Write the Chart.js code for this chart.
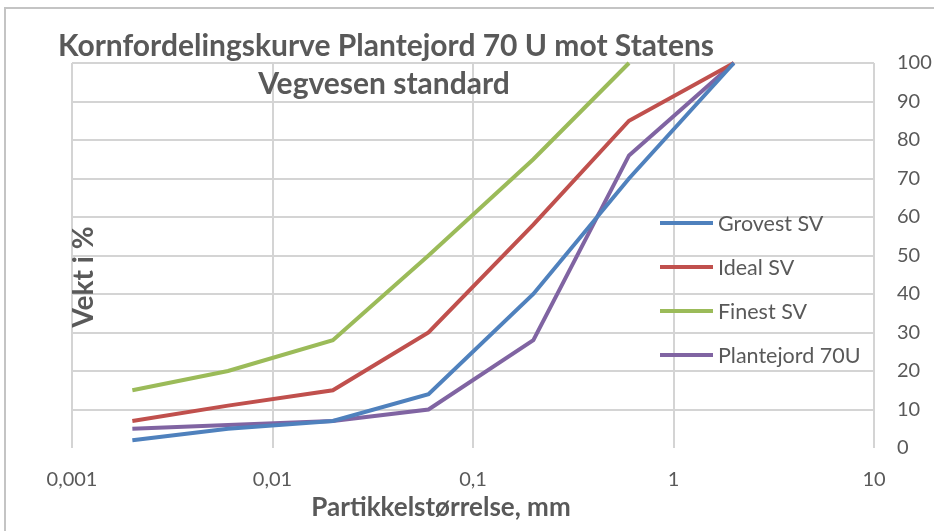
<!DOCTYPE html>
<html>
<head>
<meta charset="utf-8">
<script src="https://cdn.jsdelivr.net/npm/chart.js@4/dist/chart.umd.min.js"></script>
<style>
  html, body { margin: 0; padding: 0; background: #ffffff; }
  #wrap { width: 934px; height: 531px; position: relative; }
</style>
</head>
<body>
<div id="wrap"><canvas id="c" width="934" height="531"></canvas></div>
<script>
// ---- Data ----
const sizesMm = [0.002, 0.006, 0.02, 0.06, 0.2, 0.6, 2];
const grovestSV = [2, 5, 7, 14, 40, 70, 100];
const idealSV = [7, 11, 15, 30, 58, 85, 100];
const finestSV = [15, 20, 28, 50, 75, 100, null];
const plantejord70U = [5, 6, 7, 10, 28, 76, 100];
const seriesNames = ['Grovest SV', 'Ideal SV', 'Finest SV', 'Plantejord 70U'];
const xTickValues = [0.001, 0.01, 0.1, 1, 10];
const xTickLabels = ['0,001', '0,01', '0,1', '1', '10'];
const titleLines = ['Kornfordelingskurve Plantejord 70 U mot Statens', 'Vegvesen standard'];
const xAxisTitle = 'Partikkelstørrelse, mm';
const yAxisTitle = 'Vekt i %';

const colors = ['#4F81BD', '#C0504D', '#9BBB59', '#8064A2'];
const seriesValues = [grovestSV, idealSV, finestSV, plantejord70U];
const FONT = 'Lato, "Open Sans", sans-serif';
const TXT = '#595959';

function toPoints(vals) {
  return sizesMm.map((x, i) => ({ x: x, y: vals[i] }));
}

const decor = {
  id: 'decor',
  beforeDraw(chart) {
    const ctx = chart.ctx;
    ctx.save();
    ctx.fillStyle = '#ffffff';
    ctx.fillRect(0, 0, chart.width, chart.height);
    ctx.strokeStyle = '#c4c4c4';
    ctx.lineWidth = 2;
    ctx.strokeRect(5, 8, chart.width + 20, chart.height + 20);
    ctx.fillStyle = '#00b050';
    ctx.font = 'bold 20px ' + FONT;
    ctx.textAlign = 'left';
    ctx.textBaseline = 'alphabetic';
    ctx.fillText('g', 145, -4);
    ctx.restore();
  },
  afterDraw(chart) {
    const ctx = chart.ctx;
    ctx.save();
    ctx.fillStyle = TXT;
    ctx.font = 'bold 30px ' + FONT;
    ctx.textAlign = 'center';
    ctx.textBaseline = 'middle';
    ctx.fillText(titleLines[0], 386, 46);
    ctx.fillText(titleLines[1], 384, 84);
    ctx.font = 'bold 26px ' + FONT;
    ctx.fillText(xAxisTitle, 441, 508);
    ctx.save();
    ctx.translate(84, 277);
    ctx.rotate(-Math.PI / 2);
    ctx.font = 'bold 28px ' + FONT;
    ctx.fillText(yAxisTitle, 0, 0);
    ctx.restore();
    ctx.font = '21.5px ' + FONT;
    ctx.textAlign = 'left';
    chart.data.datasets.forEach((ds, i) => {
      const y = 223 + i * 44;
      ctx.strokeStyle = ds.borderColor;
      ctx.lineWidth = 4;
      ctx.beginPath();
      ctx.moveTo(660, y);
      ctx.lineTo(713, y);
      ctx.stroke();
      ctx.fillStyle = TXT;
      ctx.fillText(ds.label, 718, y + 1);
    });
    ctx.restore();
  }
};

new Chart(document.getElementById('c'), {
  type: 'line',
  data: {
    datasets: seriesValues.map((vals, i) => ({
      label: seriesNames[i],
      data: toPoints(vals),
      borderColor: colors[i],
      backgroundColor: colors[i],
      borderWidth: 4,
      pointRadius: 0,
      tension: 0,
      spanGaps: false,
      clip: 4
    }))
  },
  options: {
    responsive: false,
    animation: false,
    devicePixelRatio: 1,
    layout: { padding: { left: 72, top: 63, right: 0, bottom: 0 } },
    plugins: {
      legend: { display: false },
      title: { display: false },
      tooltip: { enabled: false }
    },
    scales: {
      x: {
        type: 'logarithmic',
        position: 'bottom',
        min: 0.001,
        max: 10,
        afterBuildTicks(scale) {
          scale.ticks = xTickValues.map(v => ({ value: v }));
        },
        afterFit(scale) { scale.height = 83; },
        border: { display: false },
        grid: { color: '#d4d4d4', lineWidth: 2, tickLength: 0, drawTicks: false },
        ticks: {
          autoSkip: false,
          maxRotation: 0,
          padding: 20,
          color: TXT,
          font: { family: FONT, size: 20 },
          callback(value) {
            const i = xTickValues.findIndex(v => Math.abs(v - value) / v < 1e-6);
            return i >= 0 ? xTickLabels[i] : '';
          }
        }
      },
      y: {
        position: 'right',
        min: 0,
        max: 100,
        afterFit(scale) { scale.width = 60; },
        border: { display: false },
        grid: {
          color: ctx => (ctx.tick && ctx.tick.value === 0) ? 'rgba(0,0,0,0)' : '#d4d4d4',
          lineWidth: 2,
          drawTicks: false,
          tickLength: 0
        },
        ticks: {
          stepSize: 10,
          padding: 23,
          color: TXT,
          font: { family: FONT, size: 20 }
        }
      }
    }
  },
  plugins: [decor]
});
</script>
</body>
</html>
